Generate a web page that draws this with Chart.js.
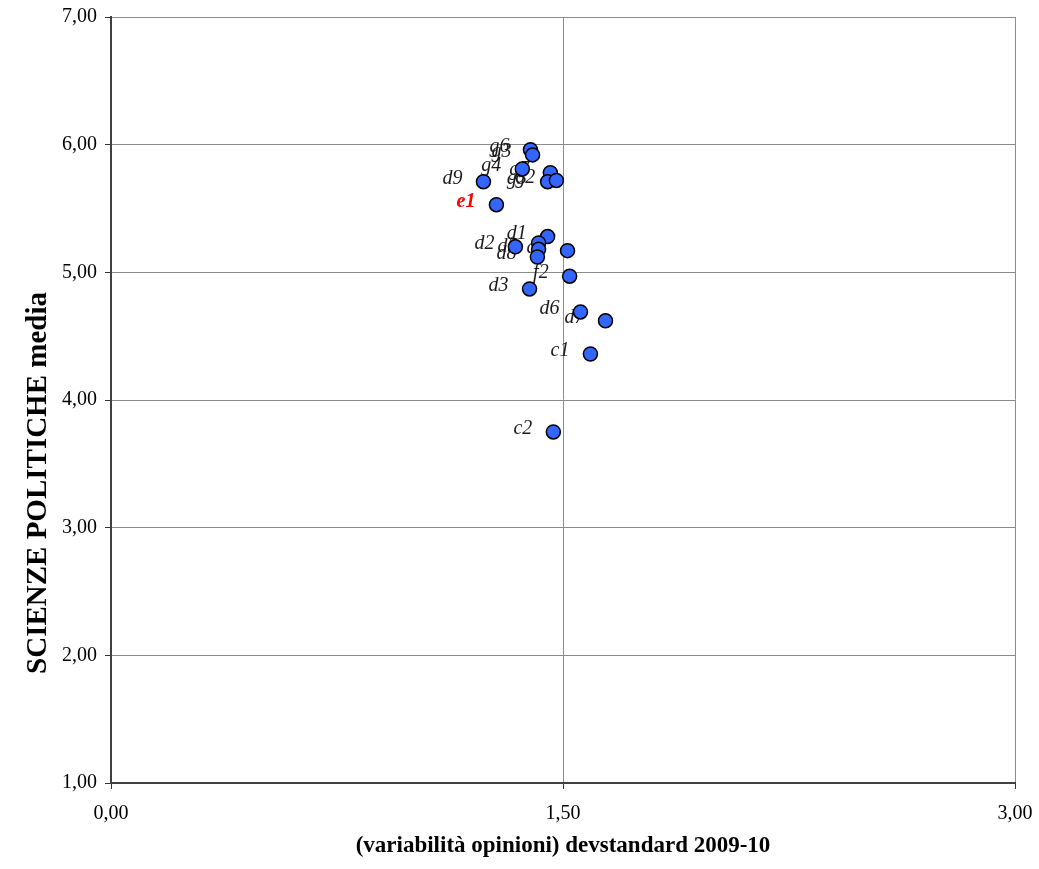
<!DOCTYPE html>
<html><head><meta charset="utf-8">
<script src="https://cdn.jsdelivr.net/npm/chart.js@4.4.1/dist/chart.umd.min.js"></script>
<style>html,body{margin:0;padding:0;background:#fff;}#wrap{width:1039px;height:869px;}</style>
</head><body><div id="wrap"><canvas id="c" width="1039" height="869"></canvas></div>
<script>
// Data
const pointLabels = ['g6','g3','g4','g7','g5','g2','d9','e1','d1','d2','','d5','d8','d4','f2','d3','d6','d7','c1','c2'];
const devStandard = [1.392,1.399,1.365,1.458,1.449,1.478,1.236,1.279,1.449,1.342,1.419,1.419,1.415,1.515,1.522,1.389,1.558,1.641,1.591,1.468];
const mediaValues = [5.96,5.92,5.81,5.78,5.71,5.72,5.71,5.53,5.28,5.20,5.23,5.18,5.12,5.17,4.97,4.87,4.69,4.62,4.36,3.75];
const highlightLabel = 'e1';
const xTickValues = [0, 1.5, 3];
const yTickValues = [1, 2, 3, 4, 5, 6, 7];
const xTitle = '(variabilità opinioni) devstandard 2009-10';
const yTitle = 'SCIENZE POLITICHE media';

const fmt = v => v.toFixed(2).replace('.', ',');
const serif = "'Liberation Serif', 'Times New Roman', serif";

const labelPlugin = {
  id: 'pointLabels',
  beforeDatasetsDraw(chart) {
    const ctx = chart.ctx;
    const meta = chart.getDatasetMeta(0);
    ctx.save();
    ctx.textAlign = 'right';
    ctx.textBaseline = 'middle';
    meta.data.forEach((pt, i) => {
      const txt = pointLabels[i];
      if (!txt) return;
      if (txt === highlightLabel) {
        ctx.font = "italic bold 20px " + serif;
        ctx.fillStyle = '#ff0000';
      } else {
        ctx.font = "italic 20px " + serif;
        ctx.fillStyle = '#1a1a1a';
      }
      ctx.fillText(txt, pt.x - 21, pt.y - 3);
    });
    ctx.restore();
  }
};

// vertical axis title, placed where the reference has it (lower than the axis centre)
const yTitlePlugin = {
  id: 'yTitle',
  afterDraw(chart) {
    const ctx = chart.ctx;
    const ys = chart.scales.y;
    ctx.save();
    ctx.translate(39, ys.getPixelForValue(3.35));
    ctx.rotate(-Math.PI / 2);
    ctx.font = "bold 29px " + serif;
    ctx.fillStyle = '#000';
    ctx.textAlign = 'center';
    ctx.textBaseline = 'middle';
    ctx.fillText(yTitle, 0, 0);
    ctx.restore();
  }
};

new Chart(document.getElementById('c'), {
  type: 'scatter',
  data: {
    datasets: [{
      data: devStandard.map((x, i) => ({x, y: mediaValues[i]})),
      backgroundColor: '#3366ff',
      borderColor: '#000000',
      borderWidth: 1.5,
      pointRadius: 7,
      pointHoverRadius: 7
    }]
  },
  plugins: [labelPlugin, yTitlePlugin],
  options: {
    responsive: false,
    animation: false,
    devicePixelRatio: 1,
    layout: {padding: {top: 17, right: 24, left: 0, bottom: 0}},
    plugins: {legend: {display: false}, tooltip: {enabled: false}},
    scales: {
      x: {
        type: 'linear', min: 0, max: 3,
        afterBuildTicks: s => { s.ticks = xTickValues.map(v => ({value: v})); },
        afterFit: s => { s.height = 86; s.paddingLeft = 0; s.paddingRight = 0; },
        ticks: {callback: v => fmt(v), color: '#000', font: {family: serif, size: 20}, padding: 13, maxRotation: 0},
        grid: {color: '#8c8c8c', lineWidth: 1, tickLength: 6, tickColor: '#333'},
        border: {color: '#404040', width: 2},
        title: {display: true, text: xTitle, color: '#000', font: {family: serif, size: 23, weight: 'bold'}, padding: {top: 0, bottom: 9}}
      },
      y: {
        type: 'linear', min: 1, max: 7,
        afterBuildTicks: s => { s.ticks = yTickValues.map(v => ({value: v})); },
        afterFit: s => { s.width = 111; s.paddingTop = 0; s.paddingBottom = 0; },
        ticks: {callback: v => fmt(v), color: '#000', font: {family: serif, size: 20}, padding: 8},
        grid: {color: '#8c8c8c', lineWidth: 1, tickLength: 6, tickColor: '#333'},
        border: {color: '#404040', width: 2},
        title: {display: false}
      }
    }
  }
});
</script></body></html>
